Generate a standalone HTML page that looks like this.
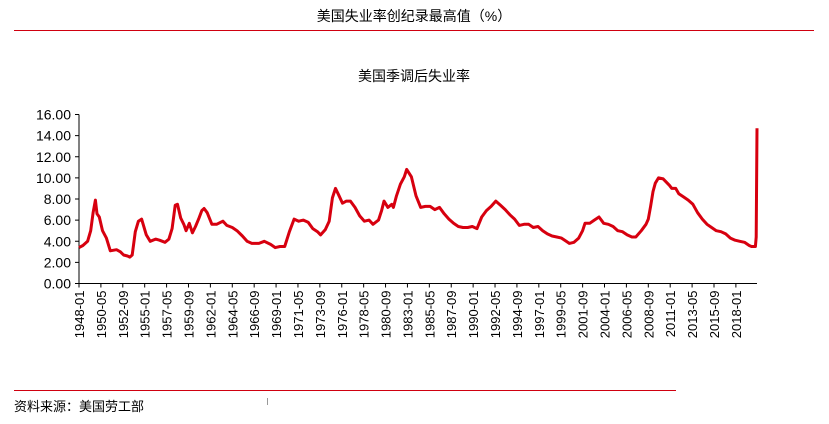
<!DOCTYPE html>
<html><head><meta charset="utf-8"><style>
body{margin:0;background:#fff;width:829px;height:424px;overflow:hidden;font-family:"Liberation Sans","Noto Sans CJK SC",sans-serif;}
</style></head><body>
<svg width="829" height="424" style="position:absolute;left:0;top:0">
<text x="414" y="21" text-anchor="middle" font-size="14" fill="#000">美国失业率创纪录最高值（%）</text>
<line x1="14" y1="30.5" x2="814" y2="30.5" stroke="#d0000f" stroke-width="1"/>
<text x="414" y="81" text-anchor="middle" font-size="14" fill="#000">美国季调后失业率</text>
<g id="axes"></g>
<g id="series"></g>
<line x1="14" y1="390.5" x2="676" y2="390.5" stroke="#d0000f" stroke-width="1"/>
<text x="14" y="411" font-size="13" fill="#000">资料来源：美国劳工部</text>
<line x1="267.5" y1="398" x2="267.5" y2="405" stroke="#999"/>
</svg>
<script>
const dates=["1948-01","1948-06","1948-12","1949-04","1949-07","1949-10","1949-12","1950-03","1950-07","1950-12","1951-05","1952-01","1952-06","1952-10","1953-03","1953-06","1953-09","1954-01","1954-05","1954-09","1955-03","1955-08","1956-03","1956-08","1957-03","1957-08","1957-12","1958-04","1958-07","1958-11","1959-03","1959-06","1959-10","1960-02","1960-06","1960-10","1961-02","1961-05","1961-09","1962-03","1962-09","1963-05","1963-10","1964-05","1964-11","1965-06","1965-12","1966-06","1967-03","1967-10","1968-06","1968-12","1969-06","1969-12","1970-06","1970-12","1971-06","1971-12","1972-06","1972-12","1973-06","1973-10","1974-04","1974-09","1975-01","1975-05","1975-09","1976-02","1976-07","1976-12","1977-06","1977-12","1978-06","1978-12","1979-05","1979-12","1980-04","1980-07","1980-12","1981-05","1981-07","1981-11","1982-04","1982-09","1982-12","1983-06","1983-12","1984-06","1984-12","1985-06","1985-12","1986-06","1986-12","1987-06","1987-12","1988-06","1988-12","1989-06","1989-12","1990-06","1990-12","1991-06","1991-12","1992-06","1992-12","1993-06","1993-12","1994-06","1994-12","1995-06","1995-12","1996-06","1996-12","1997-06","1997-12","1998-06","1998-12","1999-06","1999-12","2000-04","2000-10","2001-04","2001-09","2001-12","2002-06","2002-12","2003-06","2003-12","2004-06","2004-12","2005-06","2005-12","2006-06","2006-12","2007-05","2007-12","2008-06","2008-09","2008-12","2009-03","2009-06","2009-10","2010-04","2010-12","2011-03","2011-08","2011-12","2012-06","2012-12","2013-06","2013-12","2014-06","2014-12","2015-06","2015-12","2016-06","2016-12","2017-06","2017-12","2018-06","2018-12","2019-06","2019-09","2020-02","2020-03","2020-04"];
const values=[3.4,3.6,4.0,5.0,6.7,7.9,6.6,6.3,5.0,4.3,3.1,3.2,3.0,2.7,2.6,2.5,2.7,4.9,5.9,6.1,4.6,4.0,4.2,4.1,3.9,4.2,5.2,7.4,7.5,6.2,5.6,5.0,5.7,4.8,5.4,6.1,6.9,7.1,6.7,5.6,5.6,5.9,5.5,5.3,5.0,4.5,4.0,3.8,3.8,4.0,3.7,3.4,3.5,3.5,4.9,6.1,5.9,6.0,5.8,5.2,4.9,4.6,5.1,5.9,8.1,9.0,8.4,7.6,7.8,7.8,7.2,6.4,5.9,6.0,5.6,6.0,6.9,7.8,7.2,7.5,7.2,8.3,9.4,10.1,10.8,10.1,8.3,7.2,7.3,7.3,7.0,7.2,6.6,6.1,5.7,5.4,5.3,5.3,5.4,5.2,6.3,6.9,7.3,7.8,7.4,7.0,6.5,6.1,5.5,5.6,5.6,5.3,5.4,5.0,4.7,4.5,4.4,4.3,4.0,3.8,3.9,4.3,5.0,5.7,5.7,6.0,6.3,5.7,5.6,5.4,5.0,4.9,4.6,4.4,4.4,5.0,5.6,6.1,7.3,8.7,9.5,10.0,9.9,9.3,9.0,9.0,8.5,8.2,7.9,7.5,6.7,6.1,5.6,5.3,5.0,4.9,4.7,4.3,4.1,4.0,3.9,3.6,3.5,3.5,4.4,14.7];
const yTicks=[0,2,4,6,8,10,12,14,16];
const xTickLabels=[];
const X0=79,X1=757,Y0=283.5,Y1=114.5,YMAX=16;
const start=1948*12, totalM=2020*12+3-start;
function mIdx(d){const p=d.split('-');return (+p[0])*12+(+p[1]-1)-start;}
function xs(m){return X0+(X1-X0)*m/totalM;}
function ys(v){return Y0-(Y0-Y1)*v/YMAX;}
for(let m=0;m<=totalM;m+=28){const y=1948+Math.floor(m/12),mo=m%12+1;xTickLabels.push(y+'-'+String(mo).padStart(2,'0'));}
const NS='http://www.w3.org/2000/svg';
const ax=document.getElementById('axes');
function mk(t,a,p){const e=document.createElementNS(NS,t);for(const k in a)e.setAttribute(k,a[k]);p.appendChild(e);return e;}
mk('line',{x1:X0,y1:Y1,x2:X0,y2:Y0,stroke:'#000','stroke-width':1},ax);
mk('line',{x1:X0,y1:Y0,x2:X1,y2:Y0,stroke:'#000','stroke-width':1},ax);
yTicks.forEach(v=>{
 const tk=mk('line',{x1:X0-4,y1:ys(v),x2:X0,y2:ys(v),stroke:'#000'},ax);
 
 
 const t=mk('text',{x:X0-8,y:ys(v)+5,'text-anchor':'end','font-size':14,fill:'#000'},ax);
 t.textContent=v.toFixed(2);
 
 
});
xTickLabels.forEach(l=>{
 const x=xs(mIdx(l));
 const tk=mk('line',{x1:x,y1:Y0,x2:x,y2:Y0+4,stroke:'#000'},ax);
 
 
 const t=mk('text',{x:0,y:0,'text-anchor':'end','font-size':13,fill:'#000',transform:`translate(${x+5},${Y0+7}) rotate(-90)`},ax);
 t.textContent=l;
 
 
});
const pts=dates.map((d,i)=>xs(mIdx(d)).toFixed(1)+','+ys(values[i]).toFixed(1)).join(' ');
const pl=mk('polyline',{points:pts,fill:'none',stroke:'#d7000f','stroke-width':3,'stroke-linejoin':'round'},document.getElementById('series'));


</script>
</body></html>
